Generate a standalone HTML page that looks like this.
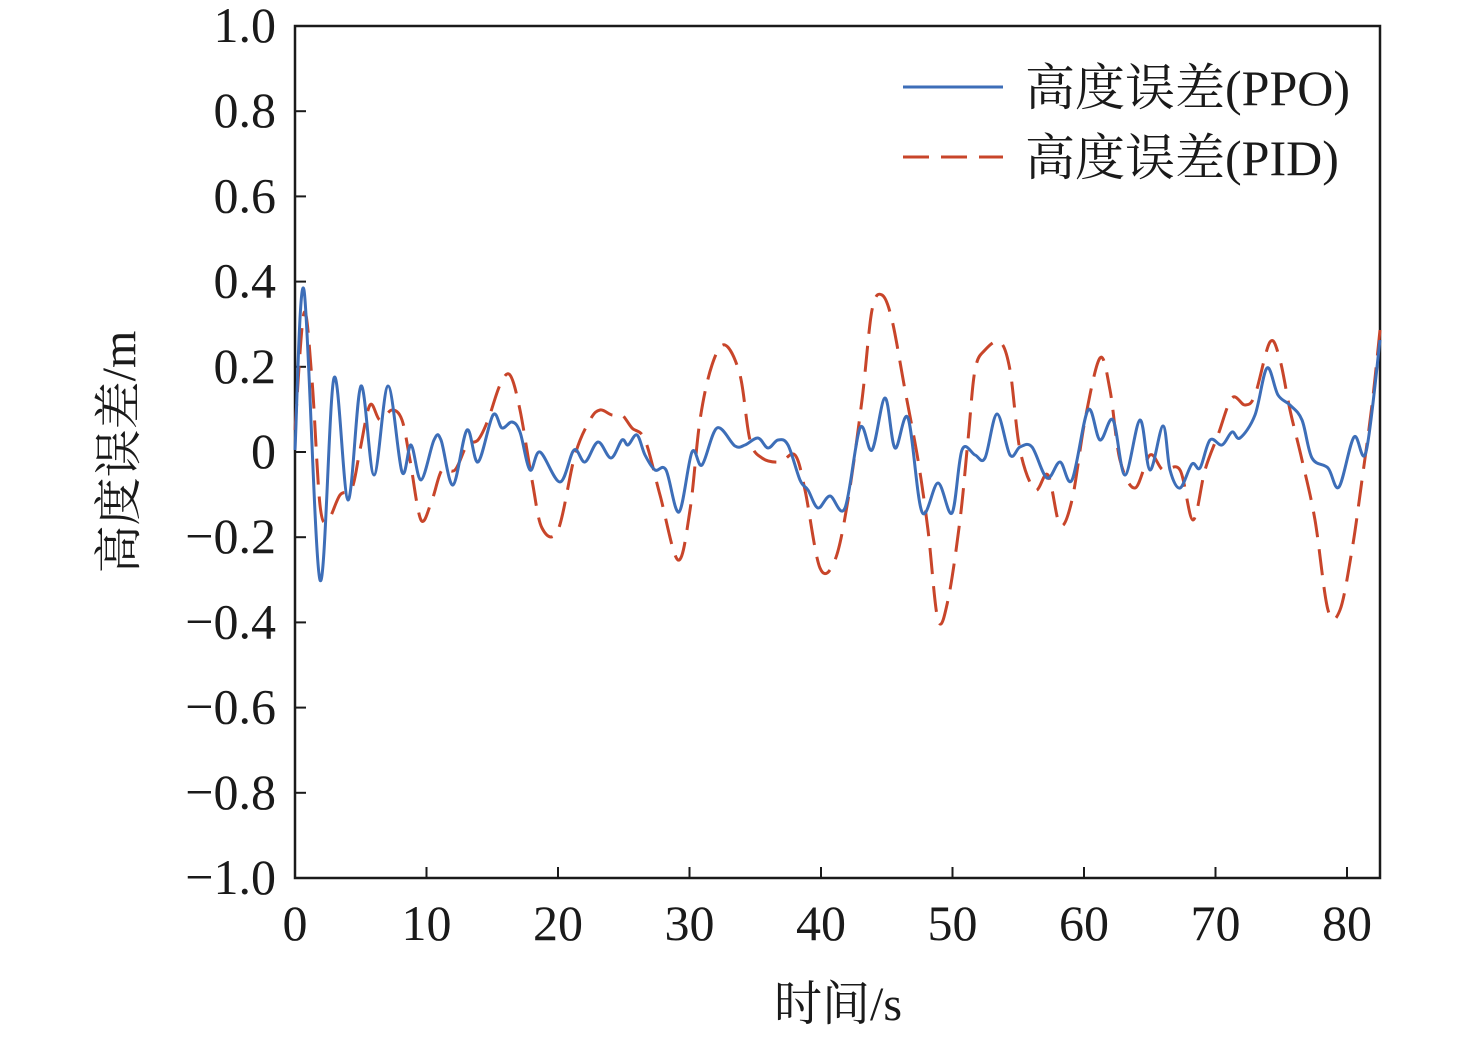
<!DOCTYPE html>
<html><head><meta charset="utf-8"><style>
html,body{margin:0;padding:0;background:#fff;}
svg{display:block;}
text{font-family:"Liberation Serif","Noto Serif CJK SC",serif;fill:#1a1a1a;}
</style></head><body>
<svg id="s" width="1476" height="1037" viewBox="0 0 1476 1037" xmlns="http://www.w3.org/2000/svg">
<rect x="295" y="26" width="1085" height="852" fill="none" stroke="#1a1a1a" stroke-width="2.5"/>
<g id="ticks" stroke="#1a1a1a" stroke-width="2"></g>
<g id="labels" font-size="50"></g>
<path id="pid" fill="none" stroke="#c8452a" stroke-width="3" stroke-dasharray="26,12"/>
<path id="ppo" fill="none" stroke="#3d6eb8" stroke-width="3"/>
<text x="838" y="1020" font-size="48" text-anchor="middle">时间/s</text>
<text transform="translate(135,452) rotate(-90)" font-size="48" text-anchor="middle">高度误差/m</text>
<line x1="903" y1="87" x2="1003" y2="87" stroke="#3d6eb8" stroke-width="3"/>
<line x1="903" y1="157" x2="1003" y2="157" stroke="#c8452a" stroke-width="3" stroke-dasharray="26,12"/>
<text x="1025" y="105" font-size="50">高度误差(PPO)</text>
<text x="1025" y="175" font-size="50">高度误差(PID)</text>
</svg>
<script>
var NS="http://www.w3.org/2000/svg";
var tk=document.getElementById('ticks'),lb=document.getElementById('labels');
function el(p,t,a,txt){var e=document.createElementNS(NS,t);for(var k in a)e.setAttribute(k,a[k]);if(txt!==undefined)e.textContent=txt;p.appendChild(e);}
var ylab=["1.0","0.8","0.6","0.4","0.2","0","−0.2","−0.4","−0.6","−0.8","−1.0"];
for(var i=0;i<11;i++){var y=26+i*85.2;
 if(i>0&&i<10)el(tk,'line',{x1:295,x2:306,y1:y,y2:y});
 el(lb,'text',{x:276,y:y+16,'text-anchor':'end'},ylab[i]);}
for(var i=0;i<=8;i++){var x=295+i*131.5;
 if(i>0)el(tk,'line',{x1:x,x2:x,y1:878,y2:867});
 el(lb,'text',{x:x,y:940,'text-anchor':'middle'},String(i*10));}
function cr(p){var d="M"+p[0][0]+","+p[0][1];
 for(var i=0;i<p.length-1;i++){var p0=p[i-1]||p[i],p1=p[i],p2=p[i+1],p3=p[i+2]||p2;
 d+=" C"+(p1[0]+(p2[0]-p0[0])/6)+","+(p1[1]+(p2[1]-p0[1])/6)+" "+(p2[0]-(p3[0]-p1[0])/6)+","+(p2[1]-(p3[1]-p1[1])/6)+" "+p2[0]+","+p2[1];}
 return d;}
var ppo=[[295,450],[304,290],[320,580],[334,378],[348,500],[361,386],[374,475],[388,386],[402,472],[411,445],[421,480],[434,440],[441,440],[453,485],[467,430],[478,462],[493,415],[502,428],[512,422],[520,432],[530,470],[540,452],[560,482],[574,450],[585,462],[598,442],[611,458],[622,440],[628,445],[637,435],[645,455],[655,470],[666,470],[679,512],[692,452],[702,465],[717,428],[735,446],[745,445],[758,438],[768,448],[778,440],[788,445],[800,480],[808,490],[818,508],[830,496],[845,508],[860,428],[872,450],[885,398],[895,448],[908,418],[922,512],[938,483],[952,513],[962,450],[975,455],[985,458],[997,414],[1010,455],[1020,447],[1032,447],[1047,478],[1060,462],[1072,480],[1088,410],[1100,440],[1113,420],[1125,475],[1140,420],[1150,470],[1163,426],[1170,470],[1180,488],[1192,464],[1200,468],[1210,440],[1222,445],[1232,432],[1240,438],[1255,415],[1267,368],[1278,395],[1290,405],[1302,420],[1312,458],[1328,468],[1339,487],[1354,437],[1366,452],[1380,340]];
var pid=[[295,430],[304,313],[312,380],[320,505],[328,520],[340,495],[352,488],[360,450],[370,405],[380,420],[392,410],[402,420],[410,460],[421,520],[432,500],[442,470],[455,470],[467,445],[478,440],[488,420],[500,385],[510,375],[520,410],[532,480],[542,528],[558,530],[575,455],[590,420],[600,410],[612,415],[622,415],[632,428],[645,440],[660,495],[678,560],[690,510],[700,420],[712,365],[725,345],[740,375],[750,440],[762,458],[780,462],[795,455],[805,490],[820,568],[835,560],[848,500],[862,400],[872,310],[882,295],[892,320],[905,390],[918,460],[928,530],[938,620],[948,600],[960,520],[968,440],[975,370],[985,350],[1000,342],[1010,370],[1020,450],[1035,490],[1048,475],[1060,525],[1072,500],[1085,420],[1100,358],[1110,390],[1120,460],[1135,488],[1150,455],[1163,470],[1180,470],[1193,520],[1205,470],[1218,435],[1232,398],[1245,405],[1255,395],[1270,342],[1280,360],[1290,410],[1302,460],[1315,520],[1328,610],[1340,610],[1352,550],[1362,480],[1372,405],[1380,330]];
document.getElementById('ppo').setAttribute('d',cr(ppo));
document.getElementById('pid').setAttribute('d',cr(pid));
</script>
</body></html>
